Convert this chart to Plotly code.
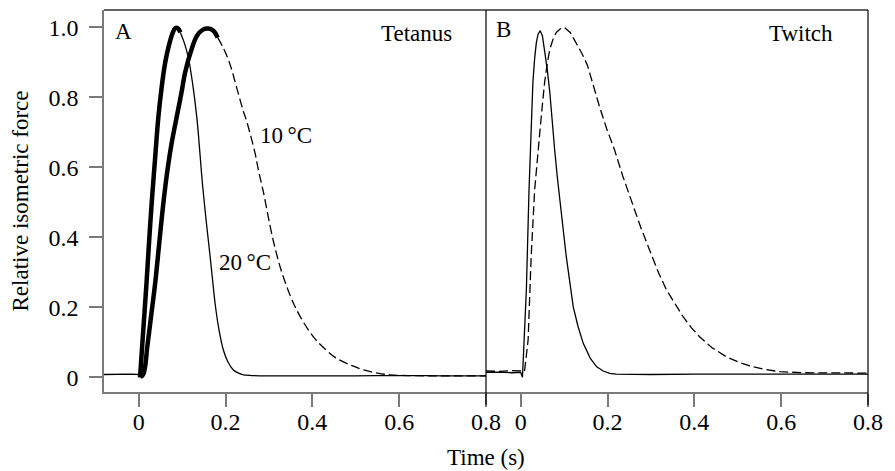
import plotly.graph_objects as go

# Panel A (tetanus) - 20 C
a20_rise_t = [0.003, 0.008, 0.013, 0.018, 0.024, 0.030, 0.038, 0.045, 0.053, 0.061, 0.070, 0.078, 0.084, 0.090, 0.096]
a20_rise_y = [0.0, 0.09, 0.18, 0.27, 0.39, 0.50, 0.63, 0.74, 0.83, 0.899, 0.95, 0.983, 0.997, 0.997, 0.985]
a20_fall_t = [0.096, 0.105, 0.114, 0.124, 0.134, 0.141, 0.147, 0.156, 0.164, 0.170, 0.176, 0.185, 0.195,
              0.205, 0.218, 0.230, 0.241, 0.26, 0.3, 0.4, 0.5, 0.6, 0.7, 0.8]
a20_fall_y = [0.985, 0.955, 0.915, 0.84, 0.74, 0.64, 0.55, 0.44, 0.35, 0.28, 0.21, 0.135, 0.078,
              0.045, 0.021, 0.012, 0.007, 0.005, 0.004, 0.004, 0.004, 0.005, 0.004, 0.004]

# Panel A (tetanus) - 10 C
a10_rise_t = [0.004, 0.011, 0.020, 0.029, 0.038, 0.047, 0.057, 0.066, 0.076, 0.088, 0.098, 0.107, 0.120,
              0.134, 0.148, 0.160, 0.172, 0.182]
a10_rise_y = [0.0, 0.01, 0.09, 0.18, 0.27, 0.38, 0.50, 0.59, 0.67, 0.747, 0.81, 0.871, 0.93,
              0.975, 0.993, 0.996, 0.99, 0.97]
a10_fall_t = [0.182, 0.195, 0.210, 0.225, 0.241, 0.249, 0.268, 0.276, 0.287, 0.310, 0.333, 0.364, 0.402,
              0.430, 0.456, 0.490, 0.518, 0.550, 0.579, 0.62, 0.7, 0.8]
a10_fall_y = [0.97, 0.94, 0.895, 0.83, 0.76, 0.73, 0.64, 0.59, 0.53, 0.39, 0.287, 0.192, 0.116,
              0.08, 0.054, 0.034, 0.021, 0.012, 0.007, 0.005, 0.004, 0.004]

# shared pre-stimulus baseline in A
a_base_t = [-0.08, -0.06, -0.04, -0.02, 0.0, 0.003]
a_base_y = [0.008, 0.009, 0.008, 0.009, 0.008, 0.0]

# Panel B (twitch) - 20 C
b20_t = [-0.08, -0.05, -0.02, 0.0, 0.004, 0.008, 0.013, 0.019, 0.024, 0.028, 0.032, 0.036, 0.040, 0.045,
         0.050, 0.055, 0.061, 0.067, 0.072, 0.078, 0.084, 0.090, 0.098, 0.105, 0.113, 0.121, 0.132, 0.144,
         0.160, 0.175, 0.19, 0.205, 0.22, 0.25, 0.3, 0.4, 0.5, 0.6, 0.7, 0.8]
b20_y = [0.014, 0.015, 0.013, 0.014, 0.0, 0.11, 0.25, 0.53, 0.72, 0.842, 0.91, 0.956, 0.98, 0.99,
         0.975, 0.937, 0.88, 0.814, 0.73, 0.652, 0.575, 0.50, 0.42, 0.344, 0.27, 0.201, 0.145, 0.097,
         0.055, 0.03, 0.018, 0.011, 0.009, 0.008, 0.008, 0.009, 0.009, 0.009, 0.009, 0.009]

# Panel B (twitch) - 10 C
b10_t = [-0.08, -0.05, -0.02, 0.0, 0.004, 0.009, 0.017, 0.024, 0.032, 0.038, 0.044, 0.050, 0.055, 0.061,
         0.067, 0.075, 0.082, 0.092, 0.101, 0.114, 0.128, 0.141, 0.154, 0.168, 0.181, 0.198, 0.216, 0.235,
         0.255, 0.276, 0.297, 0.317, 0.336, 0.355, 0.374, 0.393, 0.412, 0.44, 0.473, 0.505, 0.535, 0.565,
         0.597, 0.65, 0.7, 0.75, 0.8]
b10_y = [0.018, 0.017, 0.019, 0.018, 0.015, 0.02, 0.106, 0.344, 0.534, 0.63, 0.70, 0.78, 0.842, 0.895,
         0.937, 0.968, 0.985, 0.996, 0.999, 0.985, 0.956, 0.925, 0.89, 0.83, 0.775, 0.71, 0.65, 0.575,
         0.505, 0.43, 0.363, 0.30, 0.249, 0.21, 0.173, 0.142, 0.116, 0.085, 0.059, 0.042, 0.030, 0.022,
         0.016, 0.013, 0.012, 0.012, 0.012]

x_ticks = [0, 0.2, 0.4, 0.6, 0.8]
x_labels = ["0", "0.2", "0.4", "0.6", "0.8"]
y_ticks = [0, 0.2, 0.4, 0.6, 0.8, 1.0]
y_labels = ["0", "0.2", "0.4", "0.6", "0.8", "1.0"]

FONT = "Liberation Serif, Times New Roman, serif"
thin = dict(color="black", width=1.3)
thick = dict(color="black", width=4.5)
dashed = dict(color="black", width=1.3, dash="9px,4px")

fig = go.Figure()
fig.add_trace(go.Scatter(x=a_base_t, y=a_base_y, mode="lines", line=thin))
fig.add_trace(go.Scatter(x=a20_fall_t, y=a20_fall_y, mode="lines", line=thin, line_shape="spline"))
fig.add_trace(go.Scatter(x=a10_fall_t, y=a10_fall_y, mode="lines", line=dashed, line_shape="spline"))
fig.add_trace(go.Scatter(x=a20_rise_t, y=a20_rise_y, mode="lines", line=thick, line_shape="spline"))
fig.add_trace(go.Scatter(x=a10_rise_t, y=a10_rise_y, mode="lines", line=thick, line_shape="spline"))
fig.add_trace(go.Scatter(x=b20_t, y=b20_y, mode="lines", line=thin, xaxis="x2", yaxis="y2"))
fig.add_trace(go.Scatter(x=b10_t, y=b10_y, mode="lines", line=dashed, xaxis="x2", yaxis="y2"))

axis_gray = "#7a7a7a"
xcommon = dict(
    range=[-0.08, 0.8], tickvals=x_ticks, ticktext=x_labels, showline=True, linecolor=axis_gray,
    linewidth=1.5, ticks="outside", ticklen=13, tickwidth=1.5, tickcolor=axis_gray,
    showgrid=False, zeroline=False, ticklabelstandoff=-6,
    tickfont=dict(family=FONT, size=24, color="black"),
)
# the page body adds an 8px offset, so the figure is 8px smaller and margins shifted
fig.update_layout(
    width=887,
    height=463,
    showlegend=False,
    plot_bgcolor="white",
    paper_bgcolor="white",
    margin=dict(l=96, r=27, t=2, b=79),
    font=dict(family=FONT, size=23, color="black"),
    xaxis=dict(domain=[0, 0.5], anchor="y", **xcommon),
    xaxis2=dict(domain=[0.5, 1], anchor="y2", **xcommon),
    yaxis=dict(
        range=[-0.042, 1.049], tickvals=y_ticks, ticktext=y_labels, showline=True, linecolor=axis_gray,
        linewidth=1.5, ticks="outside", ticklen=13, tickwidth=1.5, tickcolor=axis_gray,
        showgrid=False, zeroline=False, ticklabelstandoff=6,
        tickfont=dict(family=FONT, size=24, color="black"),
        title=dict(text="Relative isometric force", font=dict(family=FONT, size=23), standoff=14),
    ),
    yaxis2=dict(range=[-0.042, 1.049], anchor="x2", visible=False),
    shapes=[
        dict(type="line", xref="paper", yref="paper", x0=0, x1=1, y0=1, y1=1,
             line=dict(color="#333333", width=1.5)),
        dict(type="line", xref="paper", yref="paper", x0=0.5, x1=0.5, y0=-0.034, y1=1,
             line=dict(color="black", width=1.2)),
        dict(type="line", xref="paper", yref="paper", x0=1, x1=1, y0=-0.034, y1=1,
             line=dict(color="black", width=1.2)),
    ],
    annotations=[
        dict(text="A", xref="paper", yref="paper", x=0.012, y=0.944, xanchor="left", yanchor="middle",
             showarrow=False, font=dict(size=23)),
        dict(text="Tetanus", xref="paper", yref="paper", x=0.458, y=0.939, xanchor="right",
             yanchor="middle", showarrow=False, font=dict(size=23)),
        dict(text="B", xref="paper", yref="paper", x=0.510, y=0.949, xanchor="left", yanchor="middle",
             showarrow=False, font=dict(size=23)),
        dict(text="Twitch", xref="paper", yref="paper", x=0.957, y=0.939, xanchor="right",
             yanchor="middle", showarrow=False, font=dict(size=23)),
        dict(text="10\u2009°C", xref="x", yref="y", x=0.2756, y=0.69, xanchor="left", yanchor="middle",
             showarrow=False, font=dict(size=23)),
        dict(text="20\u2009°C", xref="x", yref="y", x=0.18, y=0.328, xanchor="left", yanchor="middle",
             showarrow=False, font=dict(size=23)),
        dict(text="Time (s)", xref="paper", yref="paper", x=0.5, y=-0.1725, xanchor="center",
             yanchor="middle", showarrow=False, font=dict(size=23)),
    ],
)

fig.write_html("out.html")
